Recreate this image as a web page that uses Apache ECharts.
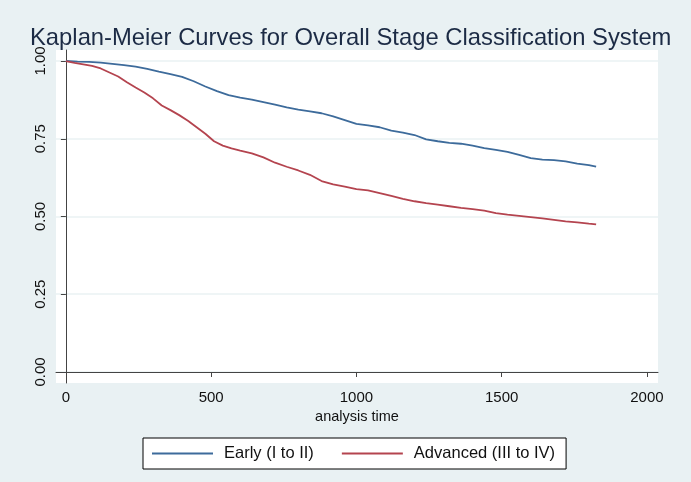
<!DOCTYPE html>
<html>
<head>
<meta charset="utf-8">
<script src="https://cdn.jsdelivr.net/npm/echarts@6/dist/echarts.min.js"></script>
<style>
  html, body { margin: 0; padding: 0; background: #e9f1f3; }
  #chart { width: 691px; height: 482px; }
</style>
</head>
<body>
<div id="chart"></div>
<script>
// Kaplan-Meier estimates (time in days, survival probability)
const earlyTime = [0, 40, 80, 120, 160, 200, 240, 280, 320, 360, 400, 440, 480, 520, 560, 600, 640, 680, 720, 760, 800,
    840, 880, 920, 960, 1000, 1040, 1080, 1120, 1160, 1200, 1240, 1280, 1320, 1360, 1400, 1440, 1480, 1520, 1560, 1600,
    1640, 1680, 1720, 1760, 1800, 1825];
const earlySurv = [1.000, 0.998, 0.997, 0.995, 0.991, 0.987, 0.982, 0.975, 0.966, 0.958, 0.949, 0.935, 0.918, 0.903, 0.890, 0.882, 0.876, 0.868, 0.860, 0.851, 0.844,
    0.838, 0.832, 0.822, 0.810, 0.798, 0.793, 0.787, 0.776, 0.770, 0.762, 0.748, 0.742, 0.737, 0.734, 0.728, 0.720, 0.714, 0.708, 0.698, 0.688,
    0.683, 0.681, 0.677, 0.670, 0.665, 0.660];

const advTime = [0, 30, 60, 90, 120, 150, 180, 210, 240, 270, 300, 330, 360, 390, 420, 450, 480, 510, 540, 570, 600,
    640, 680, 720, 760, 800, 840, 880, 920, 960, 1000, 1040, 1080, 1120, 1160, 1200, 1240, 1280, 1320, 1360, 1400,
    1440, 1480, 1520, 1560, 1600, 1640, 1680, 1720, 1760, 1800, 1825];
const advSurv = [1.000, 0.994, 0.989, 0.984, 0.976, 0.963, 0.950, 0.932, 0.915, 0.899, 0.880, 0.857, 0.842, 0.826, 0.808, 0.787, 0.766, 0.742, 0.728, 0.719, 0.712,
    0.703, 0.690, 0.673, 0.660, 0.648, 0.634, 0.614, 0.603, 0.596, 0.588, 0.584, 0.575, 0.566, 0.557, 0.549, 0.543, 0.538, 0.533, 0.528, 0.524,
    0.519, 0.511, 0.506, 0.502, 0.498, 0.494, 0.489, 0.484, 0.481, 0.477, 0.475];

const xTicks = [0, 500, 1000, 1500, 2000];
const yTicks = [0, 0.25, 0.5, 0.75, 1];

const chart = echarts.init(document.getElementById('chart'));

const zip = (xs, ys) => xs.map((x, i) => [x, ys[i]]);

chart.setOption({
    backgroundColor: '#e9f1f3',
    animation: false,
    title: {
        text: 'Kaplan-Meier Curves for Overall Stage Classification System',
        left: 25,
        top: 21,
        textStyle: { fontFamily: 'Liberation Sans', fontSize: 23.8, fontWeight: 'normal', color: '#1c2b45' }
    },
    graphic: [{
        type: 'rect',
        shape: { x: 56, y: 50, width: 602, height: 333 },
        style: { fill: '#ffffff' },
        z: -10
    }],
    grid: { left: 56, right: 33, top: 50, bottom: 99 },
    legend: {
        left: 143,
        top: 438,
        padding: [7, 11, 7, 9],
        backgroundColor: '#ffffff',
        borderColor: '#000000',
        borderWidth: 1,
        borderRadius: 0,
        itemWidth: 61,
        itemHeight: 10,
        itemGap: 28,
        icon: 'path://M0,4 L61,4 L61,6 L0,6 Z',
        textStyle: { fontFamily: 'Liberation Sans', fontSize: 16.5, color: '#111', padding: [0, 0, 0, 6] },
        data: ['Early (I to II)', 'Advanced (III to IV)']
    },
    xAxis: {
        type: 'value',
        min: -34,
        max: 2038,
        name: 'analysis time',
        nameLocation: 'middle',
        nameGap: 25,
        nameTextStyle: { fontFamily: 'Liberation Sans', fontSize: 14.5, color: '#111' },
        axisLine: { show: true, lineStyle: { color: '#444', width: 1 } },
        axisTick: { show: true, length: 5, customValues: xTicks, lineStyle: { color: '#444' } },
        axisLabel: {
            customValues: xTicks,
            fontFamily: 'Liberation Sans',
            fontSize: 15,
            color: '#111',
            margin: 7,
            formatter: v => String(v)
        },
        splitLine: { show: false }
    },
    yAxis: {
        type: 'value',
        min: -0.0354,
        max: 1.0354,
        axisLine: { show: true, lineStyle: { color: '#444', width: 1 } },
        axisTick: { show: true, length: 5, customValues: yTicks, lineStyle: { color: '#444' } },
        axisLabel: {
            customValues: yTicks,
            rotate: 90,
            fontFamily: 'Liberation Sans',
            fontSize: 15,
            color: '#111',
            margin: 8,
            formatter: v => v.toFixed(2)
        },
        splitLine: { show: true, lineStyle: { color: '#eaf2f3', width: 1.5 } }
    },
    series: [{
        name: 'Early (I to II)',
        type: 'line',
        showSymbol: false,
        data: zip(earlyTime, earlySurv),
        lineStyle: { color: '#3d6b9b', width: 1.8 },
        itemStyle: { color: '#3d6b9b' }
    }, {
        name: 'Advanced (III to IV)',
        type: 'line',
        showSymbol: false,
        data: zip(advTime, advSurv),
        lineStyle: { color: '#b4444f', width: 1.8 },
        itemStyle: { color: '#b4444f' }
    }]
});
</script>
</body>
</html>
